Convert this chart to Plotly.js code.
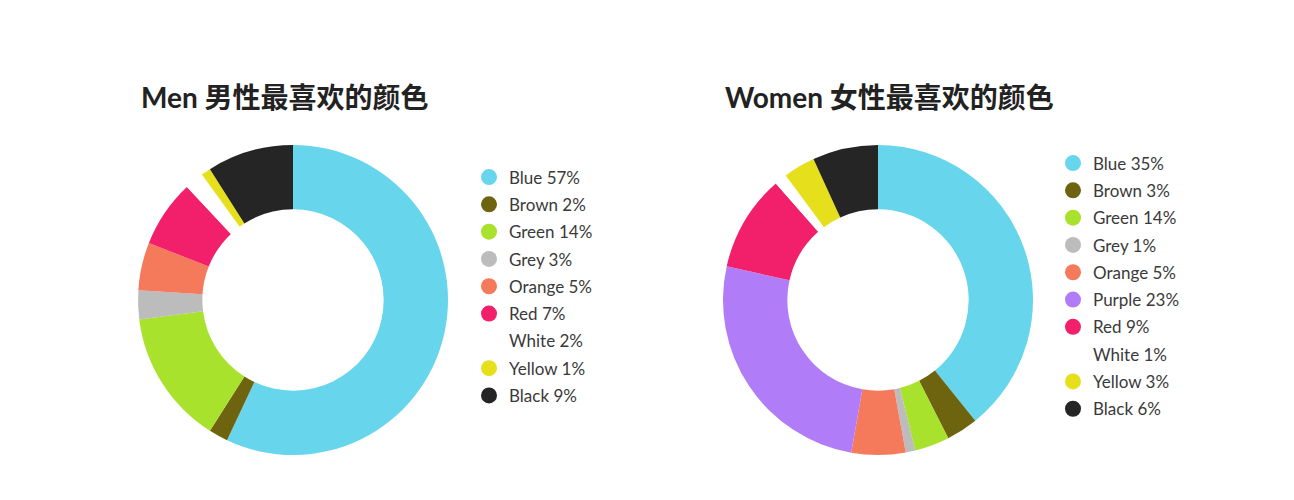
<!DOCTYPE html>
<html>
<head>
<meta charset="utf-8">
<script src="https://cdn.plot.ly/plotly-3.0.1.min.js"></script>
<style>
  html, body { margin: 0; padding: 0; background: #ffffff; }
  #chart { width: 1294px; height: 500px; }
</style>
</head>
<body>
<div id="chart"></div>
<script>
'use strict';

// Colour names, shared by both charts
let men_colors = ['Blue', 'Brown', 'Green', 'Grey', 'Orange', 'Red', 'White', 'Yellow', 'Black'];
let women_colors = ['Blue', 'Brown', 'Green', 'Grey', 'Orange', 'Purple', 'Red', 'White', 'Yellow', 'Black'];

// Legend percentages as printed
let men_pct = [57, 2, 14, 3, 5, 7, 2, 1, 9];
let women_pct = [35, 3, 14, 1, 5, 23, 9, 1, 3, 6];

// Slice sizes as drawn in the picture
let men_slices = [57, 2, 14, 3, 5, 7, 2, 1, 9];
let women_slices = [39, 3.3, 3.6, 1, 5.6, 25.6, 10, 1.3, 3.3, 6.8];

let palette = {
    Blue: '#67d5ec',
    Brown: '#6e6410',
    Green: '#a8e22c',
    Grey: '#bcbcbc',
    Orange: '#f57a5b',
    Purple: '#b07cf8',
    Red: '#f21f6b',
    White: '#ffffff',
    Yellow: '#e6e01c',
    Black: '#252525'
};

const W = 1294;
const H = 500;
const font_family = 'Lato, "Noto Sans CJK SC", sans-serif';

function px(x) { return x / W; }
function py(y) { return (H - y) / H; }

function makePie(names, values, cx, cy, r) {
    return {
        type: 'pie',
        labels: names,
        values: values,
        sort: false,
        direction: 'clockwise',
        rotation: 0,
        hole: 0.585,
        textinfo: 'none',
        hoverinfo: 'label',
        showlegend: false,
        marker: {
            colors: names.map(n => palette[n]),
            line: { width: 0 }
        },
        domain: {
            x: [px(cx - r), px(cx + r)],
            y: [py(cy + r), py(cy - r)]
        }
    };
}

function makeLegendTraces(names, pct, legend_id, prefix) {
    let arr = [];
    for (let i in names) {
        let n = names[i];
        arr.push({
            type: 'scatter',
            mode: 'markers',
            x: [null],
            y: [null],
            name: n + ' ' + pct[i] + '%',
            legend: legend_id,
            legendgroup: prefix + n,
            showlegend: true,
            hoverinfo: 'skip',
            marker: {
                size: 16,
                color: palette[n],
                symbol: 'circle',
                line: { width: 0 }
            }
        });
    }
    return arr;
}

let data = [
    makePie(men_colors, men_slices, 293, 300, 155),
    makePie(women_colors, women_slices, 878, 300, 155)
].concat(
    makeLegendTraces(men_colors, men_pct, 'legend', 'm_'),
    makeLegendTraces(women_colors, women_pct, 'legend2', 'w_')
);

let legend_base = {
    xanchor: 'left',
    yanchor: 'top',
    traceorder: 'grouped',
    tracegroupgap: 2.2,
    bgcolor: 'rgba(0,0,0,0)',
    borderwidth: 0,
    font: { family: font_family, size: 17, color: '#3a3a3a' },
    itemclick: false,
    itemdoubleclick: false
};

let title_font = { family: font_family, size: 28, color: '#222222', weight: 700 };

let layout = {
    width: W,
    height: H,
    margin: { l: 0, r: 0, t: 0, b: 0 },
    paper_bgcolor: '#ffffff',
    plot_bgcolor: '#ffffff',
    xaxis: { visible: false, range: [0, 1], fixedrange: true },
    yaxis: { visible: false, range: [0, 1], fixedrange: true },
    legend: Object.assign({}, legend_base, { x: px(469), y: py(159.5) }),
    legend2: Object.assign({}, legend_base, { x: px(1053), y: py(145.5) }),
    annotations: [
        {
            text: 'Men 男性最喜欢的颜色',
            xref: 'paper', yref: 'paper',
            x: px(139), y: py(97),
            xanchor: 'left', yanchor: 'middle',
            showarrow: false,
            font: title_font
        },
        {
            text: 'Women 女性最喜欢的颜色',
            xref: 'paper', yref: 'paper',
            x: px(723), y: py(97),
            xanchor: 'left', yanchor: 'middle',
            showarrow: false,
            font: title_font
        }
    ]
};

let config = {
    displaylogo: false,
    displayModeBar: false,
    responsive: false
};

Plotly.newPlot('chart', data, layout, config);
</script>
</body>
</html>
